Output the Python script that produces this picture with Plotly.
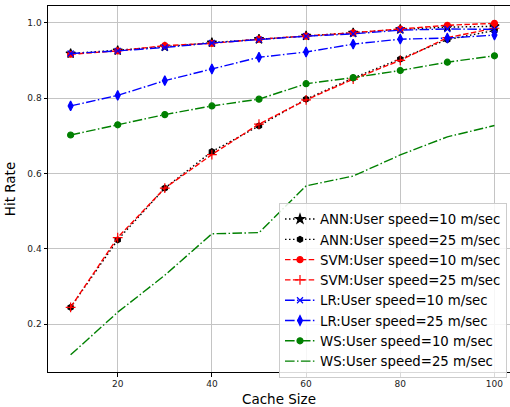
import plotly.graph_objects as go

cache_size = [10, 20, 30, 40, 50, 60, 70, 80, 90, 100]

ann_10 = [0.918, 0.926, 0.936, 0.947, 0.956, 0.965, 0.973, 0.982, 0.988, 0.990]
ann_25 = [0.245, 0.424, 0.561, 0.658, 0.726, 0.797, 0.853, 0.903, 0.955, 0.979]
svm_10 = [0.916, 0.925, 0.939, 0.945, 0.956, 0.964, 0.973, 0.983, 0.993, 0.998]
svm_25 = [0.245, 0.430, 0.561, 0.650, 0.731, 0.795, 0.850, 0.900, 0.960, 0.985]
lr_10 = [0.918, 0.925, 0.934, 0.946, 0.955, 0.964, 0.970, 0.980, 0.983, 0.982]
lr_25 = [0.779, 0.807, 0.846, 0.877, 0.908, 0.922, 0.943, 0.956, 0.959, 0.967]
ws_10 = [0.702, 0.729, 0.756, 0.779, 0.797, 0.838, 0.854, 0.873, 0.895, 0.912]
ws_25 = [0.119, 0.232, 0.330, 0.440, 0.443, 0.567, 0.593, 0.649, 0.697, 0.727]

DOT = "1.5px,2.5px"
DASH = "5.5px,2.4px"
DASHDOT = "9.6px,2.4px,1.5px,2.4px"

series = [
    ("ANN:User speed=10 m/sec", ann_10, "black", DOT, "star", 7),
    ("ANN:User speed=25 m/sec", ann_25, "black", DOT, "hexagon", 6),
    ("SVM:User speed=10 m/sec", svm_10, "red", DASH, "circle", 6),
    ("SVM:User speed=25 m/sec", svm_25, "red", DASH, "cross-thin", 7),
    ("LR:User speed=10 m/sec", lr_10, "blue", DASHDOT, "x-thin", 6),
    ("LR:User speed=25 m/sec", lr_25, "blue", DASHDOT, "diamond-tall", 7),
    ("WS:User speed=10 m/sec", ws_10, "green", DASHDOT, "circle", 6),
    ("WS:User speed=25 m/sec", ws_25, "green", DASHDOT, None, 0),
]

fig = go.Figure()
for name, vals, color, dash, sym, size in series:
    if sym is None:
        fig.add_trace(go.Scatter(x=cache_size, y=vals, name=name, mode="lines",
                                 line=dict(color=color, dash=dash, width=1.4)))
    else:
        fig.add_trace(go.Scatter(x=cache_size, y=vals, name=name, mode="lines+markers",
                                 line=dict(color=color, dash=dash, width=1.4),
                                 marker=dict(symbol=sym, size=size, color=color,
                                             line=dict(color=color, width=1.2))))

axis_common = dict(
    showgrid=True, gridcolor="#c4c4c4", gridwidth=1,
    showline=True, linecolor="black", linewidth=1,
    ticks="outside", ticklen=3.5, tickcolor="black", tickwidth=1,
    tickfont=dict(family="DejaVu Sans", size=9, color="#222222"),
    zeroline=False,
)

fig.update_layout(
    width=510, height=407,
    margin=dict(l=48, r=0, t=6, b=35),
    paper_bgcolor="white", plot_bgcolor="white",
    font=dict(family="DejaVu Sans"),
    xaxis=dict(range=[5.2, 103.3], tickvals=[20, 40, 60, 80, 100],
               title=dict(text="Cache Size", font=dict(size=13.5, color="black"), standoff=6),
               mirror=True, **axis_common),
    yaxis=dict(range=[0.0735, 1.044], tickvals=[0.2, 0.4, 0.6, 0.8, 1.0],
               ticktext=["0.2", "0.4", "0.6", "0.8", "1.0"],
               title=dict(text="Hit Rate", font=dict(size=13.5, color="black"), standoff=8),
               **axis_common),
    legend=dict(x=0.5, y=0.462, xanchor="left", yanchor="top",
                bgcolor="rgba(255,255,255,0.85)", bordercolor="#cccccc", borderwidth=1,
                font=dict(size=13.3, color="black", family="DejaVu Sans"),
                tracegroupgap=0, itemwidth=30),
)

fig.write_html("out.html")
